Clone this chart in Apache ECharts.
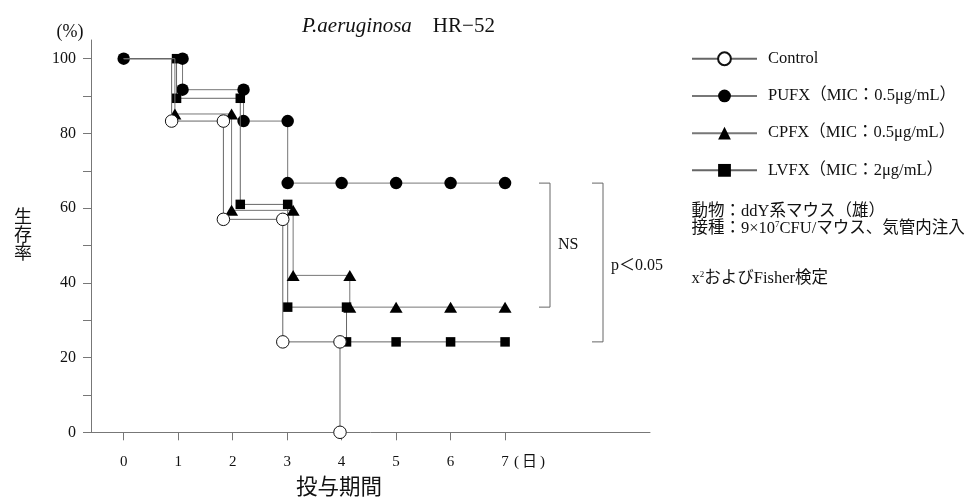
<!DOCTYPE html>
<html>
<head>
<meta charset="utf-8">
<script src="https://cdn.jsdelivr.net/npm/echarts@6/dist/echarts.min.js"></script>
<style>
  html, body { margin: 0; padding: 0; background: #fff; }
  #chart { width: 974px; height: 501px; }
</style>
</head>
<body>
<div id="chart"></div>
<script>
const FONT = '"Liberation Serif", "Noto Sans CJK JP", serif';

// Survival steps: observation day (markers are nudged sideways per group) and survival (%)
const controlDays     = [0, 0.88, 0.88, 1.83, 1.83, 2.92, 2.92, 3.97, 3.97];
const controlSurvival = [100, 100, 83.3, 83.3, 57.0, 57.0, 24.2, 24.2, 0];
const controlMarked   = [0, 0, 1, 1, 1, 1, 1, 1, 1];

const pufxDays     = [0, 1.08, 1.08, 2.2, 2.2, 3.01, 3.01, 4, 5, 6, 7];
const pufxSurvival = [100, 100, 91.7, 91.7, 83.3, 83.3, 66.7, 66.7, 66.7, 66.7, 66.7];
const pufxMarked   = [1, 1, 1, 1, 1, 1, 1, 1, 1, 1, 1];

const cpfxDays     = [0, 0.94, 0.94, 1.98, 1.98, 3.11, 3.11, 4.15, 4.15, 5, 6, 7];
const cpfxSurvival = [100, 100, 85.2, 85.2, 59.4, 59.4, 42.0, 42.0, 33.5, 33.5, 33.5, 33.5];
const cpfxMarked   = [0, 0, 1, 1, 1, 1, 1, 1, 1, 1, 1, 1];

const lvfxDays     = [0, 0.97, 0.97, 2.14, 2.14, 3.01, 3.01, 4.09, 4.09, 5, 6, 7];
const lvfxSurvival = [100, 100, 89.4, 89.4, 61.0, 61.0, 33.5, 33.5, 24.2, 24.2, 24.2, 24.2];
const lvfxMarked   = [0, 1, 1, 1, 1, 1, 1, 1, 1, 1, 1, 1];

const seriesNames = [
  'Control',
  'PUFX（MIC：0.5μg/mL）',
  'CPFX（MIC：0.5μg/mL）',
  'LVFX（MIC：2μg/mL）'
];

const dayTicks       = [0, 1, 2, 3, 4, 5, 6, 7];
const survivalTicks  = [0, 10, 20, 30, 40, 50, 60, 70, 80, 90, 100];
const survivalLabels = [0, 20, 40, 60, 80, 100];

function stepData(days, survival, marked) {
  return days.map(function (d, i) {
    const item = { value: [d, survival[i]] };
    if (!marked[i]) item.symbol = 'none';
    return item;
  });
}

function stepSeries(name, data, symbol, size, lineColor, fill, z) {
  return {
    name: name,
    type: 'line',
    data: data,
    symbol: symbol,
    symbolSize: size,
    showAllSymbol: true,
    z: z,
    lineStyle: { color: lineColor, width: 1 },
    itemStyle: { color: fill, borderColor: '#111', borderWidth: fill === '#fff' ? 1 : 0 },
    emphasis: { disabled: true }
  };
}

const chart = echarts.init(document.getElementById('chart'), null, { renderer: 'canvas' });

chart.setOption({
  animation: false,
  backgroundColor: '#fff',
  textStyle: { fontFamily: FONT, color: '#111' },
  title: {
    text: '{i|P.aeruginosa}\u2003HR−52',
    left: 297,
    top: 11,
    textStyle: {
      fontFamily: FONT, fontSize: 21, fontWeight: 'normal', color: '#111',
      rich: { i: { fontFamily: FONT, fontSize: 21, fontStyle: 'italic', color: '#111' } }
    }
  },
  legend: {
    data: seriesNames,
    orient: 'vertical',
    left: 691,
    top: 50.5,
    padding: 0,
    itemWidth: 65,
    itemHeight: 16,
    itemGap: 20.7,
    selectedMode: false,
    textStyle: { fontFamily: FONT, fontSize: 16.5, lineHeight: 16, color: '#111', padding: [0, 0, 0, 6] }
  },
  grid: { left: 91, top: 40, right: 324, bottom: 68.7, containLabel: false },
  xAxis: {
    type: 'value',
    min: -0.6,
    max: 9.66,
    splitLine: { show: false },
    axisLine: { onZero: false, lineStyle: { color: '#777', width: 1 } },
    axisTick: { customValues: dayTicks, length: 8, lineStyle: { color: '#777' } },
    axisLabel: {
      customValues: dayTicks, margin: 22,
      fontFamily: FONT, fontSize: 15, color: '#111'
    }
  },
  yAxis: {
    type: 'value',
    min: 0,
    max: 105,
    splitLine: { show: false },
    axisLine: { show: true, onZero: false, lineStyle: { color: '#777', width: 1 } },
    axisTick: { show: true, customValues: survivalTicks, length: 8, lineStyle: { color: '#777' } },
    axisLabel: {
      customValues: survivalLabels, margin: 15,
      fontFamily: FONT, fontSize: 16, color: '#111'
    }
  },
  series: [
    stepSeries(seriesNames[1], stepData(pufxDays, pufxSurvival, pufxMarked), 'circle', 12.5, '#777', '#000', 2),
    stepSeries(seriesNames[3], stepData(lvfxDays, lvfxSurvival, lvfxMarked), 'rect', 9.5, '#666', '#000', 3),
    stepSeries(seriesNames[2], stepData(cpfxDays, cpfxSurvival, cpfxMarked), 'triangle', [13, 11], '#777', '#000', 4),
    stepSeries(seriesNames[0], stepData(controlDays, controlSurvival, controlMarked), 'circle', 12.5, '#666', '#fff', 5)
  ]
});

// Axis captions, notes and significance brackets
const yPx = function (v) { return chart.convertToPixel({ yAxisIndex: 0 }, v); };
const xPx = function (v) { return chart.convertToPixel({ xAxisIndex: 0 }, v); };

const topLevel = yPx(pufxSurvival[pufxSurvival.length - 1]);
const nsLevel  = yPx(cpfxSurvival[cpfxSurvival.length - 1]);
const pLevel   = yPx(lvfxSurvival[lvfxSurvival.length - 1]);
const axisY    = yPx(0);

function txt(x, y, text, opts) {
  return {
    type: 'text', x: x, y: y, silent: true,
    style: Object.assign({
      text: text, fontFamily: FONT, fontSize: 16.5, fill: '#111',
      textAlign: 'left', textVerticalAlign: 'middle'
    }, opts || {})
  };
}

function bracket(x, y1, y2) {
  return {
    type: 'polyline', silent: true,
    shape: { points: [[x - 11, y1], [x, y1], [x, y2], [x - 11, y2]] },
    style: { stroke: '#666', lineWidth: 1, fill: null }
  };
}

const supStyle = { fontFamily: FONT, fontSize: 9, verticalAlign: 'top', padding: [0, 0, 7, 0] };

chart.setOption({
  graphic: [
    txt(70, 32, '(%)', { textAlign: 'center', fontSize: 18 }),
    txt(23, 236, '生\n存\n率', { textAlign: 'center', fontSize: 18, lineHeight: 18 }),
    txt(339, 488, '投与期間', { textAlign: 'center', fontSize: 21.5 }),
    txt(xPx(7) + 9, axisY + 30, '(\u2009日\u2009)', { fontSize: 15 }),
    txt(691.5, 211.5, '動物：ddY系マウス（雄）'),
    {
      type: 'text', x: 691.5, y: 228.5, silent: true,
      style: {
        text: '接種：9×10{s|7}CFU/マウス、気管内注入',
        fontFamily: FONT, fontSize: 16.5, fill: '#111', textVerticalAlign: 'middle',
        rich: { s: supStyle }
      }
    },
    {
      type: 'text', x: 691.5, y: 278.5, silent: true,
      style: {
        text: 'x{s|2}およびFisher検定',
        fontFamily: FONT, fontSize: 16.5, fill: '#111', textVerticalAlign: 'middle',
        rich: { s: supStyle }
      }
    },
    bracket(550, topLevel, nsLevel),
    bracket(603, topLevel, pLevel),
    txt(558, (topLevel + nsLevel) / 2, 'NS', { fontSize: 16 }),
    txt(611, 266, 'p＜0.05', { fontSize: 16 })
  ]
});
</script>
</body>
</html>
